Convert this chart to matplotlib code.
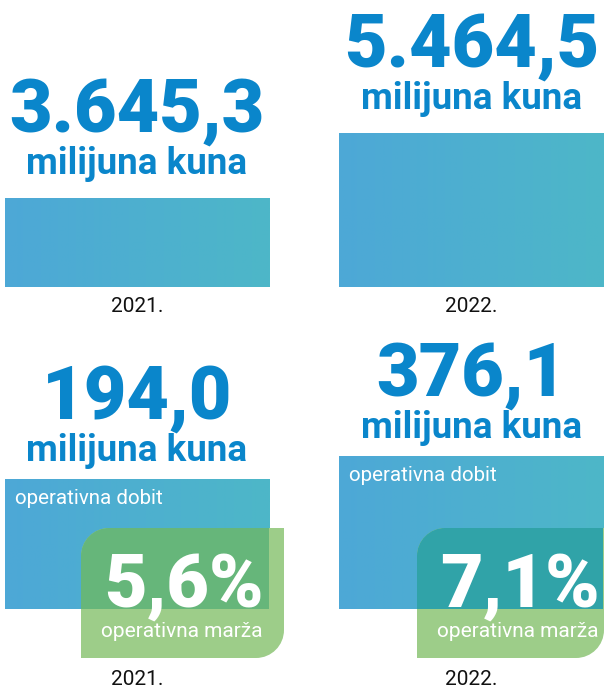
import matplotlib as mpl
mpl.use('Agg')
import matplotlib.pyplot as plt
import numpy as np
from matplotlib.path import Path
from matplotlib.patches import PathPatch
from matplotlib.colors import to_rgb

# podaci
years = ['2021.', '2022.']
revenue = [3645.3, 5464.5]          # milijuna kuna
revenue_labels = ['3.645,3', '5.464,5']
op_profit = [194.0, 376.1]          # milijuna kuna
op_profit_labels = ['194,0', '376,1']
op_margin_labels = ['5,6%', '7,1%']

W, H = 604, 688
BLUE_TXT = '#0A86CB'
GRAD = ('#4DA8D7', '#4DB7C8')
GREEN = '#9DCD89'
OVERLAP = ['#66B67A', '#30A3A8']

plt.rcParams['font.family'] = ['Roboto', 'DejaVu Sans']

fig = plt.figure(figsize=(W / 100, H / 100), dpi=100)


def fx(x):
    return x / W


def fy(y):
    return 1 - y / H


def px_axes(top, bottom):
    return fig.add_axes([0, fy(bottom), 1, (bottom - top) / H])


def gradient_bars(ax, vals, ymin, ymax):
    # stupci kreću od donjeg ruba osi
    bars = ax.bar(range(len(vals)), np.array(vals) - ymin, 0.79, bottom=ymin,
                  color='none', zorder=1)
    grad = np.linspace(0, 1, 256)[None, :, None]
    c0, c1 = np.array(to_rgb(GRAD[0])), np.array(to_rgb(GRAD[1]))
    img = c0 * (1 - grad) + c1 * grad
    for b, v in zip(bars, vals):
        im = ax.imshow(img, extent=(b.get_x(), b.get_x() + b.get_width(), ymin, v),
                       aspect='auto', zorder=1)
        im.set_clip_path(b)
    ax.set_xlim(-0.41, 1.397)
    ax.set_ylim(ymin, ymax)
    for s in ax.spines.values():
        s.set_visible(False)
    ax.set_yticks([])
    return bars


def leaf(x0, y0, x1, y1, r):
    # x/y u pikselima slike (y prema dolje) -> figure fraction
    k = 0.5523 * r
    pts = [(x0, y1), (x1 - r, y1), (x1 - r + k, y1), (x1, y1 - r + k), (x1, y1 - r),
           (x1, y0), (x0 + r, y0), (x0 + r - k, y0), (x0, y0 + r - k), (x0, y0 + r), (x0, y1)]
    codes = [Path.MOVETO, Path.LINETO, Path.CURVE4, Path.CURVE4, Path.CURVE4,
             Path.LINETO, Path.LINETO, Path.CURVE4, Path.CURVE4, Path.CURVE4, Path.CLOSEPOLY]
    return Path([(fx(a), fy(b)) for a, b in pts], codes)


def big_labels(ax, bars, vals, labels, off_num, off_unit):
    for b, v, lab in zip(bars, vals, labels):
        cx = b.get_x() + b.get_width() / 2
        ax.annotate(lab, (cx, v), xytext=(0, off_num), textcoords='offset pixels',
                    ha='center', va='baseline', fontsize=53, fontweight='black', color=BLUE_TXT)
        ax.annotate('milijuna kuna', (cx, v), xytext=(0, off_unit), textcoords='offset pixels',
                    ha='center', va='baseline', fontsize=26.5, fontweight='bold', color=BLUE_TXT)


def year_ticks(ax, pad):
    ax.set_xticks(range(len(years)), years)
    ax.tick_params(axis='x', length=0, pad=pad, labelsize=15, labelcolor='#111111')


# gornji dio: prihodi
ax1 = px_axes(0, 287)
bars1 = gradient_bars(ax1, revenue, 1154, 9186)
big_labels(ax1, bars1, revenue, revenue_labels, 66, 24)
year_ticks(ax1, 7)

# donji dio: operativna dobit i marža
ax2 = px_axes(330, 609)
bars2 = gradient_bars(ax2, op_profit, -835, 1374)
big_labels(ax2, bars2, op_profit, op_profit_labels, 60, 18)
boxes = [(81, 528, 284, 658), (417, 528, 604, 658)]
for i, (b, v) in enumerate(zip(bars2, op_profit)):
    ax2.annotate('operativna dobit', (b.get_x(), v), xytext=(10, -25),
                 textcoords='offset pixels', ha='left', va='baseline', fontsize=14.8,
                 fontweight='normal', color='white', zorder=5)

    x0, y0, x1, y1 = boxes[i]
    p = leaf(x0, y0, x1, y1, 28)
    ax2.add_patch(PathPatch(p, transform=fig.transFigure, facecolor=GREEN,
                            edgecolor='none', clip_on=False, zorder=2))
    ov = PathPatch(p, transform=fig.transFigure, facecolor=OVERLAP[i], edgecolor='none', zorder=3)
    ax2.add_patch(ov)
    ov.set_clip_path(b)
    fig.text(fx(x0 + 23), fy(607), op_margin_labels[i], ha='left', va='baseline',
             fontsize=53, fontweight='black', color='white', zorder=6)
    fig.text(fx(x0 + 20), fy(637), 'operativna marža', ha='left', va='baseline',
             fontsize=15, fontweight='normal', color='white', zorder=6)

year_ticks(ax2, 44)

fig.savefig('out.png', dpi=100)
